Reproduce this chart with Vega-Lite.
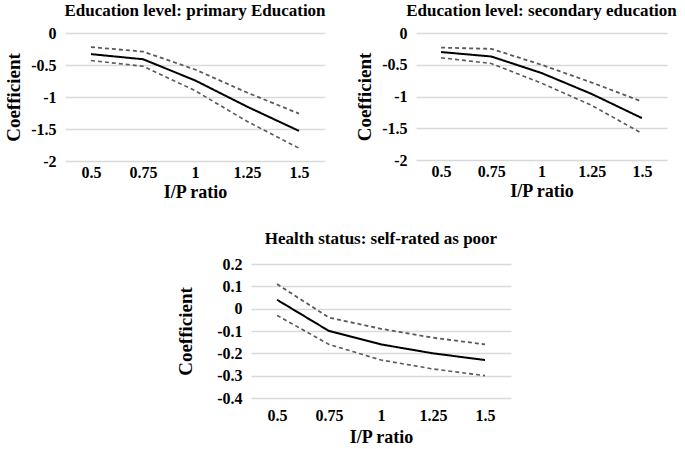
{
  "$schema": "https://vega.github.io/schema/vega-lite/v6.json",
  "background": "white",
  "padding": {"left": 4, "top": 2, "right": 2, "bottom": 2},
  "config": {
    "font": "Liberation Serif",
    "view": {"stroke": null},
    "axis": {
      "labelFont": "Liberation Serif",
      "labelFontWeight": "bold",
      "labelFontSize": 16,
      "labelColor": "#000",
      "titleFont": "Liberation Serif",
      "titleFontWeight": "bold",
      "titleFontSize": 18,
      "titleColor": "#000",
      "domain": false,
      "ticks": false
    },
    "axisY": {"titleFontSize": 19},
    "title": {"font": "Liberation Serif", "fontWeight": "bold", "fontSize": 17, "color": "#000", "offset": 5}
  },
  "datasets": {
    "coef": [
      {"panel": "primary", "ratio": "0.5", "series": "est", "value": -0.33},
      {"panel": "primary", "ratio": "0.75", "series": "est", "value": -0.41},
      {"panel": "primary", "ratio": "1", "series": "est", "value": -0.74},
      {"panel": "primary", "ratio": "1.25", "series": "est", "value": -1.15},
      {"panel": "primary", "ratio": "1.5", "series": "est", "value": -1.53},
      {"panel": "primary", "ratio": "0.5", "series": "upper", "value": -0.22},
      {"panel": "primary", "ratio": "0.75", "series": "upper", "value": -0.29},
      {"panel": "primary", "ratio": "1", "series": "upper", "value": -0.57},
      {"panel": "primary", "ratio": "1.25", "series": "upper", "value": -0.93},
      {"panel": "primary", "ratio": "1.5", "series": "upper", "value": -1.26},
      {"panel": "primary", "ratio": "0.5", "series": "lower", "value": -0.43},
      {"panel": "primary", "ratio": "0.75", "series": "lower", "value": -0.52},
      {"panel": "primary", "ratio": "1", "series": "lower", "value": -0.9},
      {"panel": "primary", "ratio": "1.25", "series": "lower", "value": -1.38},
      {"panel": "primary", "ratio": "1.5", "series": "lower", "value": -1.8},
      {"panel": "secondary", "ratio": "0.5", "series": "est", "value": -0.3},
      {"panel": "secondary", "ratio": "0.75", "series": "est", "value": -0.37},
      {"panel": "secondary", "ratio": "1", "series": "est", "value": -0.63},
      {"panel": "secondary", "ratio": "1.25", "series": "est", "value": -0.96},
      {"panel": "secondary", "ratio": "1.5", "series": "est", "value": -1.34},
      {"panel": "secondary", "ratio": "0.5", "series": "upper", "value": -0.23},
      {"panel": "secondary", "ratio": "0.75", "series": "upper", "value": -0.25},
      {"panel": "secondary", "ratio": "1", "series": "upper", "value": -0.5},
      {"panel": "secondary", "ratio": "1.25", "series": "upper", "value": -0.78},
      {"panel": "secondary", "ratio": "1.5", "series": "upper", "value": -1.08},
      {"panel": "secondary", "ratio": "0.5", "series": "lower", "value": -0.39},
      {"panel": "secondary", "ratio": "0.75", "series": "lower", "value": -0.48},
      {"panel": "secondary", "ratio": "1", "series": "lower", "value": -0.79},
      {"panel": "secondary", "ratio": "1.25", "series": "lower", "value": -1.14},
      {"panel": "secondary", "ratio": "1.5", "series": "lower", "value": -1.58},
      {"panel": "health", "ratio": "0.5", "series": "est", "value": 0.04},
      {"panel": "health", "ratio": "0.75", "series": "est", "value": -0.1},
      {"panel": "health", "ratio": "1", "series": "est", "value": -0.16},
      {"panel": "health", "ratio": "1.25", "series": "est", "value": -0.2},
      {"panel": "health", "ratio": "1.5", "series": "est", "value": -0.23},
      {"panel": "health", "ratio": "0.5", "series": "upper", "value": 0.11},
      {"panel": "health", "ratio": "0.75", "series": "upper", "value": -0.04},
      {"panel": "health", "ratio": "1", "series": "upper", "value": -0.09},
      {"panel": "health", "ratio": "1.25", "series": "upper", "value": -0.13},
      {"panel": "health", "ratio": "1.5", "series": "upper", "value": -0.16},
      {"panel": "health", "ratio": "0.5", "series": "lower", "value": -0.03},
      {"panel": "health", "ratio": "0.75", "series": "lower", "value": -0.16},
      {"panel": "health", "ratio": "1", "series": "lower", "value": -0.23},
      {"panel": "health", "ratio": "1.25", "series": "lower", "value": -0.27},
      {"panel": "health", "ratio": "1.5", "series": "lower", "value": -0.3}
    ]
  },
  "vconcat": [
    {
      "hconcat": [
        {
          "title": "Education level: primary Education",
          "width": 260,
          "height": 128,
          "data": {"name": "coef"},
          "transform": [{"filter": "datum.panel === 'primary'"}],
          "mark": {"type": "line"},
          "encoding": {
            "x": {"field": "ratio", "type": "ordinal", "sort": ["0.5", "0.75", "1", "1.25", "1.5"], "scale": {"type": "point", "padding": 0.5}, "title": "I/P ratio", "axis": {"labelAngle": 0, "labelPadding": 3, "titlePadding": 3, "grid": false}},
            "y": {"field": "value", "type": "quantitative", "scale": {"domain": [-2, 0]}, "title": "Coefficient", "axis": {"values": [0, -0.5, -1, -1.5, -2], "labelExpr": "'' + datum.value", "labelPadding": 9, "titlePadding": 7, "grid": true, "gridColor": "#d9d9d9", "gridWidth": 1.5}},
            "detail": {"field": "series"},
            "color": {"field": "series", "scale": {"domain": ["est", "upper", "lower"], "range": ["#000000", "#595959", "#595959"]}, "legend": null},
            "strokeDash": {"field": "series", "scale": {"domain": ["est", "upper", "lower"], "range": [[1, 0], [4, 3], [4, 3]]}, "legend": null},
            "strokeWidth": {"field": "series", "scale": {"domain": ["est", "upper", "lower"], "range": [2, 1.6, 1.6]}, "legend": null}
          }
        },
        {
          "title": "Education level: secondary education",
          "width": 251,
          "height": 127,
          "data": {"name": "coef"},
          "transform": [{"filter": "datum.panel === 'secondary'"}],
          "mark": {"type": "line"},
          "encoding": {
            "x": {"field": "ratio", "type": "ordinal", "sort": ["0.5", "0.75", "1", "1.25", "1.5"], "scale": {"type": "point", "padding": 0.5}, "title": "I/P ratio", "axis": {"labelAngle": 0, "labelPadding": 3, "titlePadding": 3, "grid": false}},
            "y": {"field": "value", "type": "quantitative", "scale": {"domain": [-2, 0]}, "title": "Coefficient", "axis": {"values": [0, -0.5, -1, -1.5, -2], "labelExpr": "'' + datum.value", "labelPadding": 9, "titlePadding": 7, "grid": true, "gridColor": "#d9d9d9", "gridWidth": 1.5}},
            "detail": {"field": "series"},
            "color": {"field": "series", "scale": {"domain": ["est", "upper", "lower"], "range": ["#000000", "#595959", "#595959"]}, "legend": null},
            "strokeDash": {"field": "series", "scale": {"domain": ["est", "upper", "lower"], "range": [[1, 0], [4, 3], [4, 3]]}, "legend": null},
            "strokeWidth": {"field": "series", "scale": {"domain": ["est", "upper", "lower"], "range": [2, 1.6, 1.6]}, "legend": null}
          }
        }
      ],
      "spacing": 29
    },
    {
      "hconcat": [
        {
          "width": 111,
          "height": 10,
          "data": {"values": []},
          "mark": "point"
        },
        {
          "title": {"text": "Health status: self-rated as poor", "offset": 8},
          "width": 260,
          "height": 134,
          "data": {"name": "coef"},
          "transform": [{"filter": "datum.panel === 'health'"}],
          "mark": {"type": "line"},
          "encoding": {
            "x": {"field": "ratio", "type": "ordinal", "sort": ["0.5", "0.75", "1", "1.25", "1.5"], "scale": {"type": "point", "padding": 0.5}, "title": "I/P ratio", "axis": {"labelAngle": 0, "labelPadding": 9, "titlePadding": 5, "grid": false}},
            "y": {"field": "value", "type": "quantitative", "scale": {"domain": [-0.4, 0.2]}, "title": "Coefficient", "axis": {"values": [0.2, 0.1, 0, -0.1, -0.2, -0.3, -0.4], "labelExpr": "'' + datum.value", "labelPadding": 9, "titlePadding": 21, "grid": true, "gridColor": "#d9d9d9", "gridWidth": 1.5}},
            "detail": {"field": "series"},
            "color": {"field": "series", "scale": {"domain": ["est", "upper", "lower"], "range": ["#000000", "#595959", "#595959"]}, "legend": null},
            "strokeDash": {"field": "series", "scale": {"domain": ["est", "upper", "lower"], "range": [[1, 0], [4, 3], [4, 3]]}, "legend": null},
            "strokeWidth": {"field": "series", "scale": {"domain": ["est", "upper", "lower"], "range": [2, 1.6, 1.6]}, "legend": null}
          }
        }
      ],
      "spacing": 0
    }
  ],
  "spacing": 29
}
